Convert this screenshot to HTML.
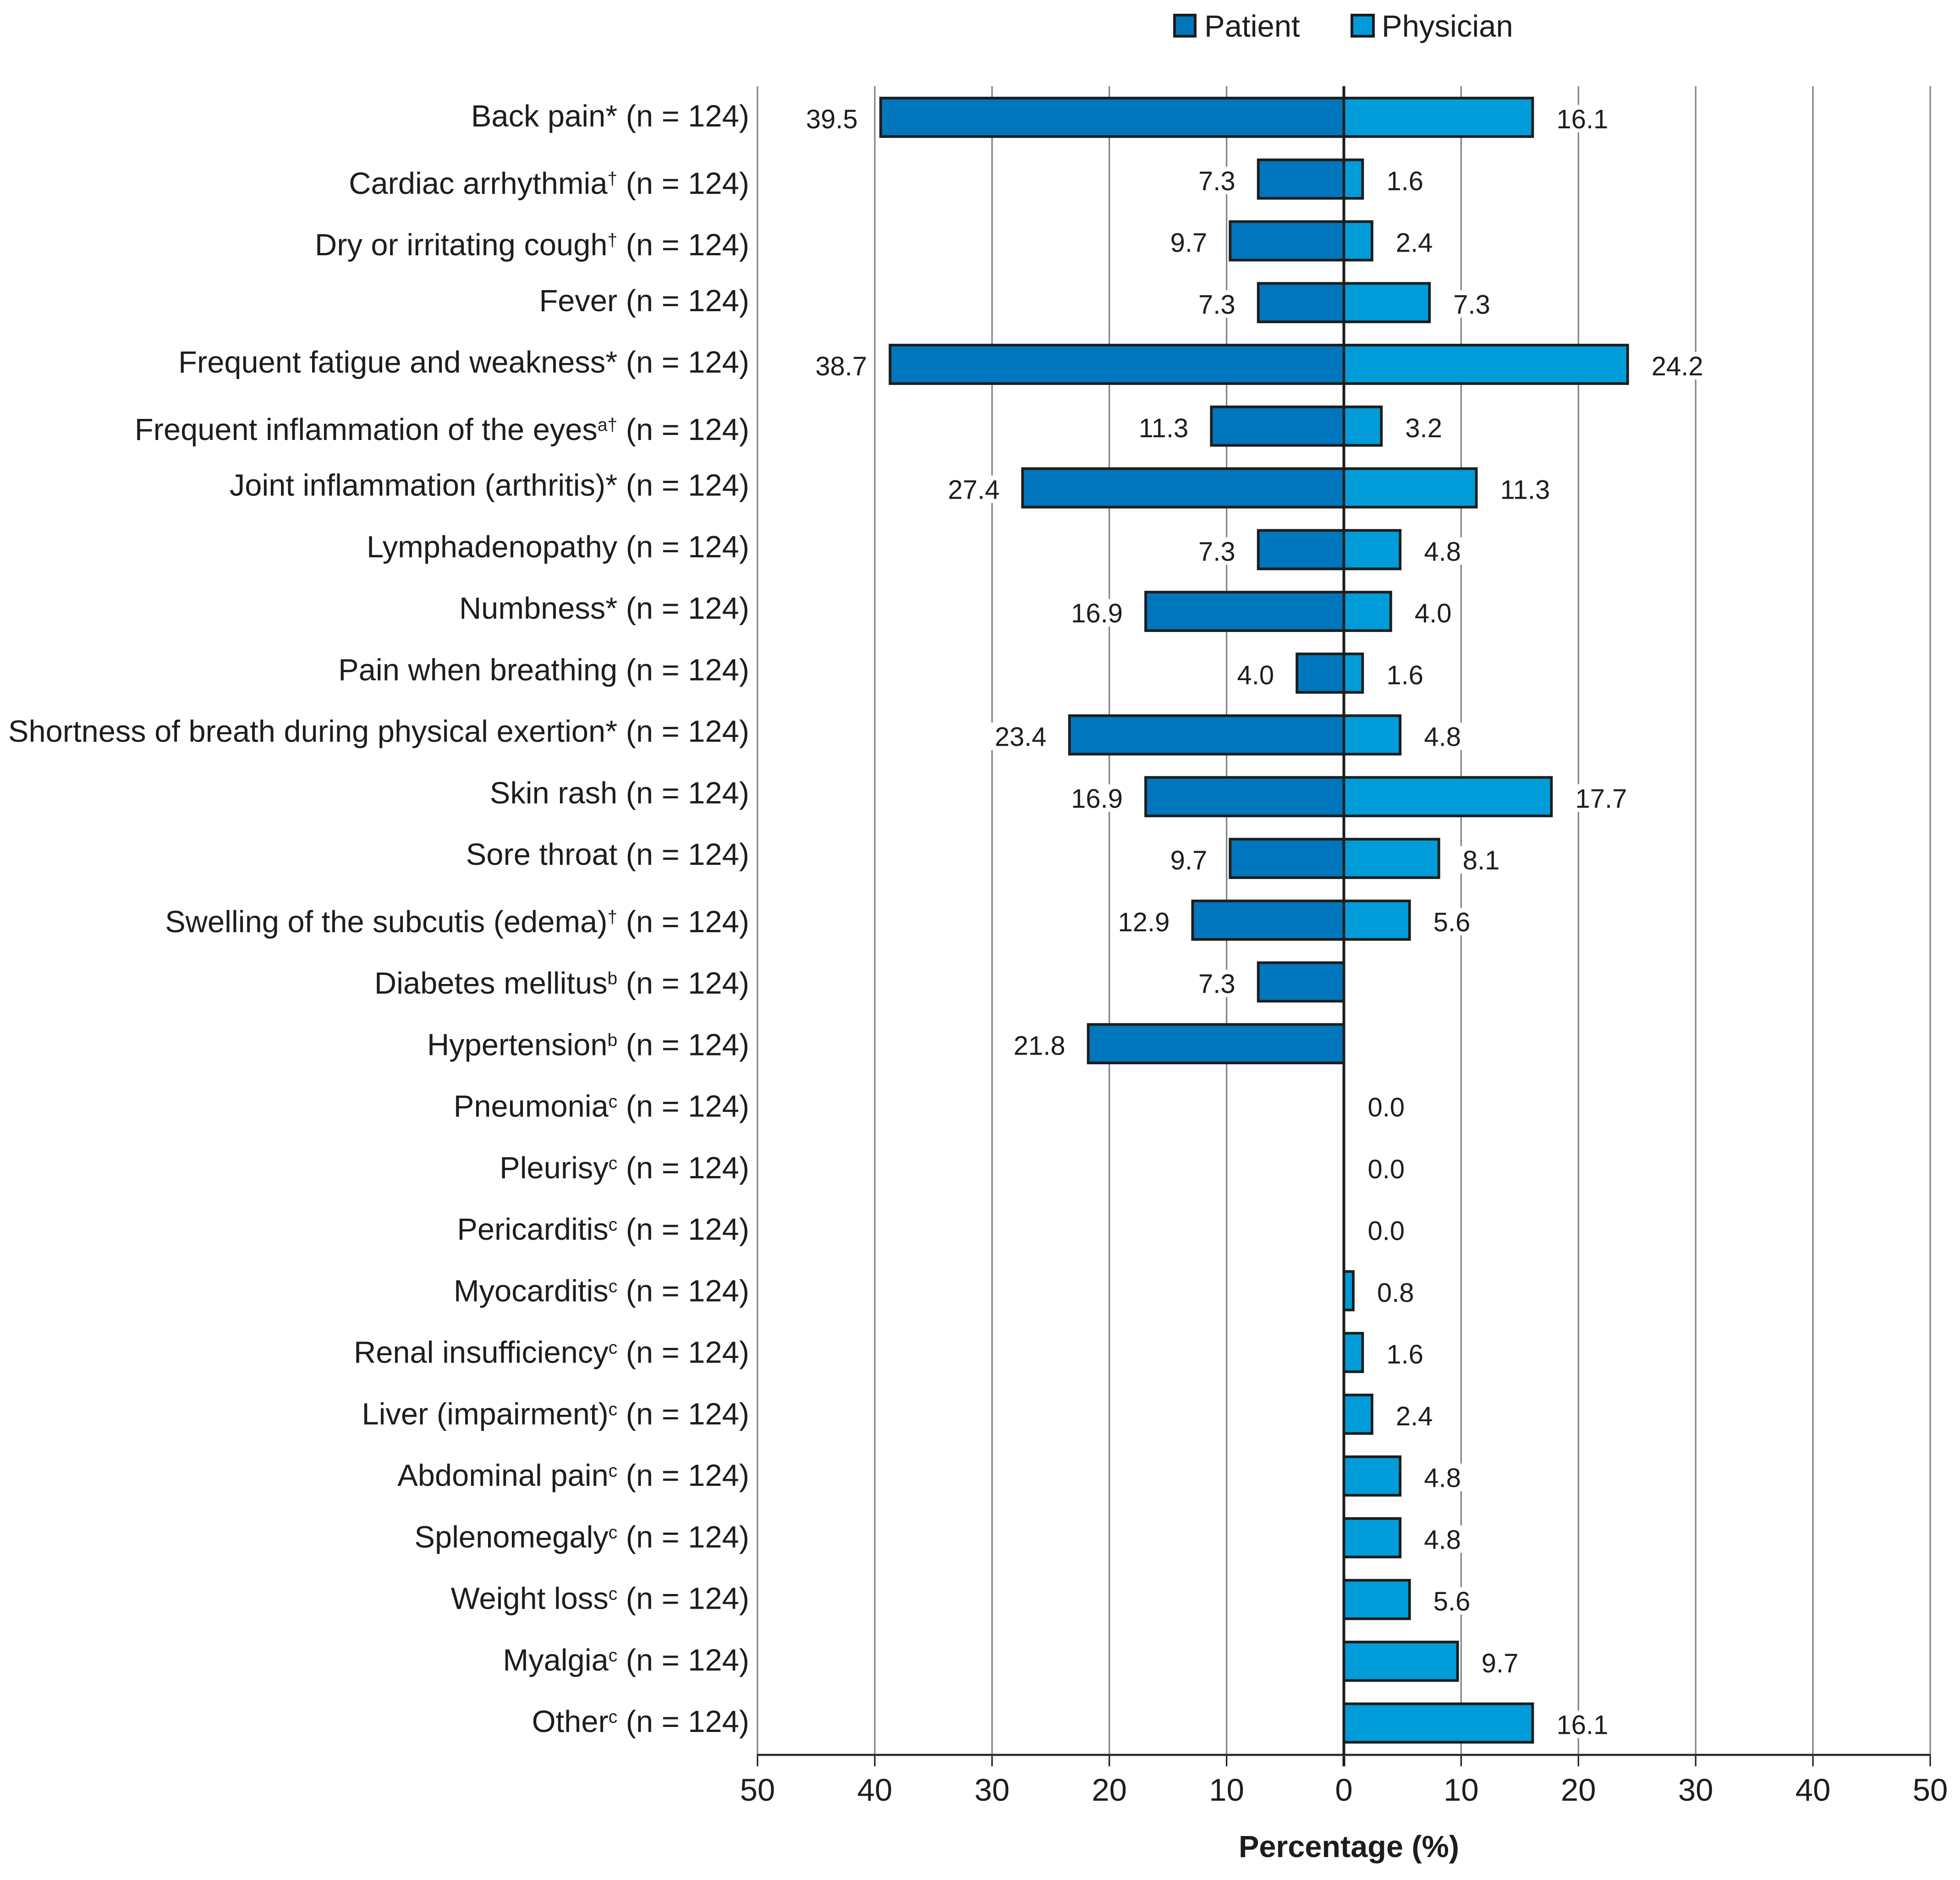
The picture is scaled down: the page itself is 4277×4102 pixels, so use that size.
<!DOCTYPE html>
<html lang="en">
<head>
<meta charset="utf-8">
<title>Symptoms reported by patients and physicians</title>
<style>
  html, body { margin: 0; padding: 0; background: #ffffff; }
  svg { display: block; }
  text { font-family: "Liberation Sans", Arial, sans-serif; fill: #1d1d1b; }
</style>
</head>
<body>
<svg id="chart" xmlns="http://www.w3.org/2000/svg" width="4277" height="4102" viewBox="0 0 4277 4102">
  <rect x="0" y="0" width="4277" height="4102" fill="#ffffff"/>
  <g id="grid"></g>
  <g id="value-backs"></g>
  <g id="bars"></g>
  <g id="axis"></g>
  <g id="cats"></g>
  <g id="values"></g>
  <g>
    <g>
      <rect x="2563" y="33" width="45" height="46" fill="#0076bd" stroke="#1d1d1b" stroke-width="6"/>
      <text x="2628" y="80" font-size="67">Patient</text>
    </g>
    <g>
      <rect x="2950" y="33" width="47" height="46" fill="#009cda" stroke="#1d1d1b" stroke-width="6"/>
      <text x="3015" y="80" font-size="67">Physician</text>
    </g>
  </g>
  <text x="2943.5" y="4052" font-size="66.6" font-weight="700" text-anchor="middle">Percentage (%)</text>
</svg>
<script>
const categories = ["Back pain*", "Cardiac arrhythmia", "Dry or irritating cough", "Fever", "Frequent fatigue and weakness*", "Frequent inflammation of the eyes", "Joint inflammation (arthritis)*", "Lymphadenopathy", "Numbness*", "Pain when breathing", "Shortness of breath during physical exertion*", "Skin rash", "Sore throat", "Swelling of the subcutis (edema)", "Diabetes mellitus", "Hypertension", "Pneumonia", "Pleurisy", "Pericarditis", "Myocarditis", "Renal insufficiency", "Liver (impairment)", "Abdominal pain", "Splenomegaly", "Weight loss", "Myalgia", "Other"];
const footnotes = ["", "†", "†", "", "", "a†", "", "", "", "", "", "", "", "†", "b", "b", "c", "c", "c", "c", "c", "c", "c", "c", "c", "c", "c"];
const sampleSizes = [124, 124, 124, 124, 124, 124, 124, 124, 124, 124, 124, 124, 124, 124, 124, 124, 124, 124, 124, 124, 124, 124, 124, 124, 124, 124, 124];
const patientValues = [39.5, 7.3, 9.7, 7.3, 38.7, 11.3, 27.4, 7.3, 16.9, 4.0, 23.4, 16.9, 9.7, 12.9, 7.3, 21.8, null, null, null, null, null, null, null, null, null, null, null];
const physicianValues = [16.1, 1.6, 2.4, 7.3, 24.2, 3.2, 11.3, 4.8, 4.0, 1.6, 4.8, 17.7, 8.1, 5.6, null, null, 0.0, 0.0, 0.0, 0.8, 1.6, 2.4, 4.8, 4.8, 5.6, 9.7, 16.1];
const leftTicks = [50, 40, 30, 20, 10];
const centerTicks = [0];
const rightTicks = [10, 20, 30, 40, 50];

const SVGNS = "http://www.w3.org/2000/svg";
const INK = "#1d1d1b";
const GRID = "#828282";
const ZERO_X = 2932.5;
const UNIT = 25.59;
const ROW0 = 256;
const ROW_STEP = 134.75;
const LABEL_Y0 = 276;
const LABEL_STEP = 134.25;
const GRID_TOP = 188;
const AXIS_Y = 3829;
const TICK_END = 3854;
const BAR_H = 84;
const VALUE_GAP_LEFT = 50;
const VALUE_GAP_RIGHT = 52;

// signed: negative = patient side, positive = physician side
function xScale(v) { return ZERO_X + v * UNIT; }
function rowY(i) { return ROW0 + i * ROW_STEP; }
function make(tag, attrs, parent) {
  const el = document.createElementNS(SVGNS, tag);
  for (const k in attrs) el.setAttribute(k, attrs[k]);
  parent.appendChild(el);
  return el;
}

const gridG = document.getElementById("grid");
const backG = document.getElementById("value-backs");
const barsG = document.getElementById("bars");
const axisG = document.getElementById("axis");
const catsG = document.getElementById("cats");
const valsG = document.getElementById("values");

// gridlines and ticks
function drawTick(signedValue, label) {
  const x = xScale(signedValue);
  if (signedValue !== 0) {
    const g = make("line", {x1: x, x2: x, y1: GRID_TOP, y2: AXIS_Y, stroke: GRID, "stroke-width": 3.2}, gridG);
    
    
  }
  const t = make("line", {x1: x, x2: x, y1: AXIS_Y, y2: TICK_END, stroke: INK, "stroke-width": signedValue === 0 ? 6 : 3.2}, axisG);
  
  
  const l = make("text", {x: x, y: 3929, "font-size": 69, "text-anchor": "middle"}, axisG);
  
  
  l.textContent = label;
}
leftTicks.forEach(function (v) { drawTick(-v, v); });
centerTicks.forEach(function (v) { drawTick(v, v); });
rightTicks.forEach(function (v) { drawTick(v, v); });

const axisUnder = make("line", {x1: xScale(-50) - 1.5, x2: xScale(50) + 1.5, y1: AXIS_Y, y2: AXIS_Y, stroke: GRID, "stroke-width": 5}, axisG);


const axisLine = make("line", {x1: xScale(-50) - 1.5, x2: xScale(50) + 1.5, y1: AXIS_Y, y2: AXIS_Y, stroke: INK, "stroke-width": 3.5}, axisG);



// bars and value labels
function drawBar(i, value, side, fill) {
  if (value === null) return;
  const cy = rowY(i);
  if (value > 0) {
    const end = xScale(side * value);
    const bar = make("rect", {
      x: Math.min(end, ZERO_X), y: cy - BAR_H / 2,
      width: Math.abs(end - ZERO_X), height: BAR_H,
      fill: fill, stroke: INK, "stroke-width": 5.8
    }, barsG);
    
    
  }
  const tx = xScale(side * value) + (side < 0 ? -VALUE_GAP_LEFT : VALUE_GAP_RIGHT);
  const ty = cy + 24;
  const text = make("text", {x: tx, y: ty, "font-size": 58, "text-anchor": side < 0 ? "end" : "start"}, valsG);
  
  
  text.textContent = value.toFixed(1);
  const w = text.getComputedTextLength();
  const back = make("rect", {
    x: side < 0 ? tx - w - 8 : tx - 8, y: ty - 51,
    width: w + 16, height: 60, fill: "#ffffff"
  }, backG);
  
  
}
patientValues.forEach(function (v, i) { drawBar(i, v, -1, "#0076bd"); });
physicianValues.forEach(function (v, i) { drawBar(i, v, 1, "#009cda"); });

const zeroLine = make("line", {x1: ZERO_X, x2: ZERO_X, y1: GRID_TOP, y2: AXIS_Y, stroke: INK, "stroke-width": 6}, axisG);



// category labels
categories.forEach(function (name, i) {
  const sup = footnotes[i];
  const y = LABEL_Y0 + i * LABEL_STEP + (sup ? 12.5 : 0);
  const t = make("text", {x: 1635, y: y, "font-size": 66.8, "text-anchor": "end"}, catsG);
  
  
  t.appendChild(document.createTextNode(name));
  const rest = " (n = " + sampleSizes[i] + ")";
  if (sup) {
    const s = make("tspan", {"font-size": 39, dy: -20}, t);
    s.textContent = sup;
    const r = make("tspan", {dy: 20}, t);
    r.textContent = rest;
  } else {
    t.appendChild(document.createTextNode(rest));
  }
});
</script>
</body>
</html>
